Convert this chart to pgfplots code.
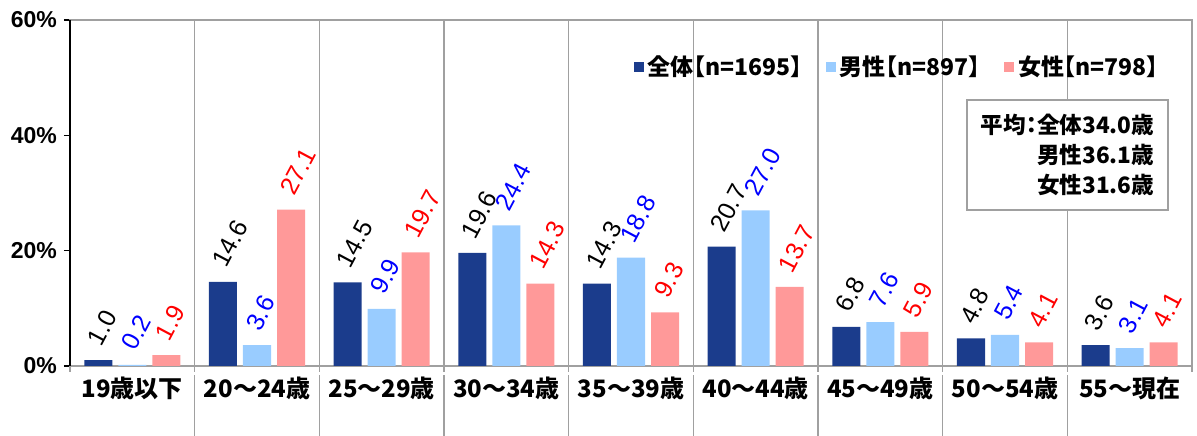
\documentclass[border=0pt]{standalone}
\usepackage{fontspec}
\setmainfont{Liberation Sans}
\newfontfamily\cjk{Noto Sans CJK JP}
\newfontfamily\cjkh{Noto Sans CJK JP}[RawFeature=+halt]
\usepackage{pgfplots}
\pgfplotsset{compat=1.18}
\definecolor{cA}{RGB}{27,60,140}
\definecolor{cB}{RGB}{153,204,255}
\definecolor{cC}{RGB}{255,153,153}
\definecolor{gridg}{RGB}{160,160,160}
\definecolor{lblue}{RGB}{0,0,255}
\definecolor{lred}{RGB}{255,0,0}
\pgfplotsset{mylegend/.style={legend image code/.code={\fill[##1,draw=none] (0pt,-2.5pt) rectangle (5pt,2.5pt);}}}
\begin{document}
\begin{tikzpicture}
\begin{axis}[
  scale only axis, width=561pt, height=173pt,
  xmin=-0.5, xmax=8.5, ymin=0, ymax=60,
  clip=false,
  ybar, bar width=0.225,
  /pgf/number format/assume math mode=true,
  xtick={-0.5,0.5,...,8.5},
  xticklabels={,,,,,,,,,,},
  xtick pos=bottom, ytick pos=left,
  xmajorgrids=true,
  grid style={gridg, line width=0.6pt},
  ytick={0,20,40,60},
  yticklabels={0\%,20\%,40\%,60\%},
  yticklabel style={font=\bfseries\fontsize{11.5}{12}\selectfont},
  tick align=outside,
  major tick length=3pt,
  xtick style={gridg, line width=0.6pt},
  ytick style={black, line width=0.8pt},
  axis line style={gridg, line width=0.6pt},
  extra x ticks={0,1,2,3,4,5,6,7,8},
  extra x tick labels={19歳以下,20～24歳,25～29歳,30～34歳,35～39歳,40～44歳,45～49歳,50～54歳,55～現在},
  extra x tick style={major tick length=0pt, grid=none,
     xticklabel style={font=\cjk\bfseries\fontsize{12}{13}\selectfont, yshift=-2pt}},
  every node near coord/.append style={yshift=7pt, xshift=-3pt, rotate=62, anchor=west, inner sep=1.5pt,
     font=\fontsize{12.5}{13}\selectfont},
  nodes near coords={\pgfmathprintnumber[fixed,fixed zerofill,precision=1]{\pgfplotspointmeta}},
  legend style={draw=none, fill=none, at={(0.738,0.864)}, anchor=center,
     legend columns=3, font=\cjkh\bfseries\fontsize{11.5}{12}\selectfont,
     /tikz/every even column/.append style={column sep=10pt}},
]
\addplot[fill=cA, draw=none, bar shift=-0.273, nodes near coords style={black}, mylegend] coordinates {
(0,1.0) (1,14.6) (2,14.5) (3,19.6) (4,14.3) (5,20.7) (6,6.8) (7,4.8) (8,3.6)};
\addlegendentry{全体【n=1695】}
\addplot[fill=cB, draw=none, bar shift=0, nodes near coords style={lblue}, mylegend] coordinates {
(0,0.2) (1,3.6) (2,9.9) (3,24.4) (4,18.8) (5,27.0) (6,7.6) (7,5.4) (8,3.1)};
\addlegendentry{男性【n=897】}
\addplot[fill=cC, draw=none, bar shift=0.273, nodes near coords style={lred}, mylegend] coordinates {
(0,1.9) (1,27.1) (2,19.7) (3,14.3) (4,9.3) (5,13.7) (6,5.9) (7,4.1) (8,4.1)};
\addlegendentry{女性【n=798】}
\pgfplotsinvokeforeach{0.5,1.5,2.5,3.5,4.5,5.5,6.5,7.5}{
  \draw[gridg, line width=0.6pt] ([yshift=-4.5pt]axis cs:#1,0) -- ([yshift=-36pt]axis cs:#1,0);
}
\draw[black, line width=1pt] (rel axis cs:0,0) -- (rel axis cs:0,1);
\node[draw=gridg, fill=white, line width=0.6pt, align=right,
  font=\cjkh\bfseries\fontsize{11.3}{14.8}\selectfont,
  minimum width=100.5pt, minimum height=55pt] at (rel axis cs:0.889,0.61)
  {平均：全体34.0歳\\男性36.1歳\\女性31.6歳};
\coordinate (SW) at (rel axis cs:0,0);
\coordinate (NE) at (rel axis cs:1,1);
\end{axis}
\pgfresetboundingbox
\path[use as bounding box] ([shift={(-35pt,-35pt)}]SW) rectangle ([shift={(2.5pt,10pt)}]NE);
\end{tikzpicture}
\end{document}
